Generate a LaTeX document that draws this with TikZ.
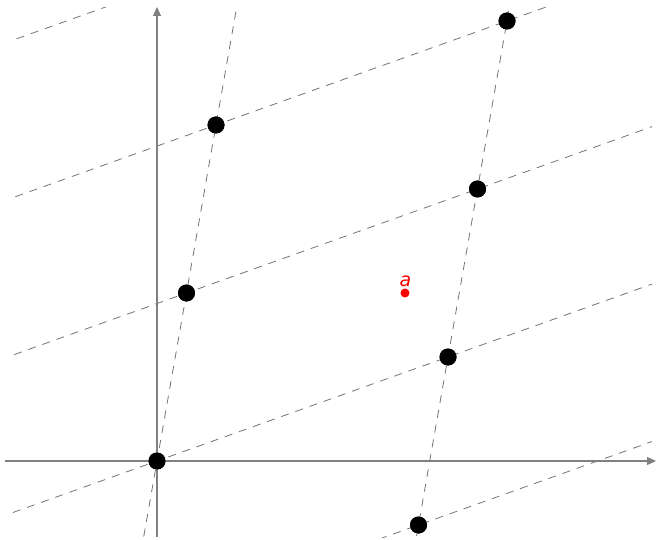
\documentclass[tikz,border=0pt]{standalone}
\usepackage{fontspec}
\newfontfamily\labelfont{DejaVu Sans}
\usetikzlibrary{calc,arrows.meta}
\tikzset{
  axis/.style={draw=black!50, line width=1.1pt, -{Triangle[length=9pt,width=8pt]}},
  latline/.style={draw=black!55, line width=0.8pt, dash pattern=on 8pt off 7pt},
  latdot/.style={circle, fill=black, inner sep=0pt, minimum size=17pt},
  reddot/.style={circle, fill=red, inner sep=0pt, minimum size=9pt},
  redlabel/.style={text=red, font=\labelfont\itshape\fontsize{19}{19}\selectfont, inner sep=0pt}
}
\begin{document}
\begin{tikzpicture}[x=1pt,y=-1pt]
\useasboundingbox (0,0) rectangle (656,540);
% lattice coordinates
\coordinate (m1) at (127.5,629);
\coordinate (k3) at (245.5,-43);
\coordinate (k3b) at (536.5,-147);
\node[latdot] (p00) at (157,461) {};
\node[latdot] (p10) at (186.5,293) {};
\node[latdot] (p20) at (216,125) {};
\node[latdot] (q0) at (418.5,525) {};
\node[latdot] (q1) at (448,357) {};
\node[latdot] (q2) at (477.5,189) {};
\node[latdot] (q3) at (507,21) {};
% dashed lattice lines (clipped)
\begin{scope}
\clip (10,8) rectangle (652,537);
\draw[latline] ($(p00)!-3!(p10)$) -- ($(p00)!4!(p10)$);
\draw[latline] ($(q1)!-3!(q2)$) -- ($(q1)!4!(q2)$);
\draw[latline] ($(m1)!-2!(q0)$) -- ($(m1)!3!(q0)$);
\draw[latline] ($(p00)!-2!(q1)$) -- ($(p00)!3!(q1)$);
\draw[latline] ($(p10)!-2!(q2)$) -- ($(p10)!3!(q2)$);
\draw[latline] ($(p20)!-2!(q3)$) -- ($(p20)!3!(q3)$);
\draw[latline] ($(k3)!-2!(k3b)$) -- ($(k3)!3!(k3b)$);
\end{scope}
% axes
\coordinate (xs) at (5,461);
\coordinate (xe) at (656,461);
\coordinate (ys) at (157,537);
\coordinate (ye) at (157,7);
\draw[axis] (xs) -- (xe);
\draw[axis] (ys) -- (ye);
% redraw dots on top
\foreach \n in {p00,p10,p20,q0,q1,q2,q3} \fill[black] (\n) circle (8.5pt);
% red point a
\node[reddot] (a) at (405,293) {};
\node[redlabel, anchor=south] (alabel) at (405.5,287) {a};
\end{tikzpicture}
\end{document}
